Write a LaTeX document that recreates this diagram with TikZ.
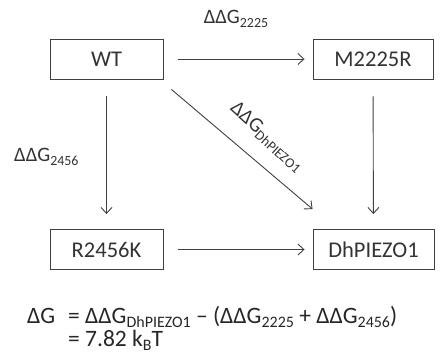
\documentclass[tikz,border=0pt]{standalone}
\usepackage{fontspec}
\usepackage{graphicx}
\setmainfont{Carlito}
\usetikzlibrary{arrows.meta,calc}
\newcommand\sbs[1]{\raisebox{-0.18em}{\scalebox{0.68}{#1}}}
\begin{document}
\begin{tikzpicture}[x=1pt,y=-1pt,
  box/.style={draw=black!75, line width=0.9pt, minimum height=40pt, inner sep=0pt, font=\fontsize{22.5}{26}\selectfont, text=black!80},
  conn/.style={draw=black!75, line width=0.9pt, -{Straight Barb[length=6pt,width=11pt]}},
  lbl/.style={font=\fontsize{20.5}{24}\selectfont, text=black!80, inner sep=0pt},
  eqn/.style={font=\fontsize{23.5}{27}\selectfont, text=black!85, inner sep=0pt, anchor=base west}]
\useasboundingbox (0,0) rectangle (441,362);
\node[box, minimum width=113pt] (wt) at (106.5,59) {WT};
\node[box, minimum width=120pt] (m) at (373,59) {M2225R};
\node[box, minimum width=113pt] (r) at (106.5,249.5) {R2456K};
\node[box, minimum width=121pt] (dh) at (373.5,249.5) {DhPIEZO1};
\draw[conn, shorten <=15pt, shorten >=8pt] (wt) -- (m);
\draw[conn, shorten <=15pt, shorten >=8pt] (r) -- (dh);
\draw[conn, shorten <=17pt, shorten >=15pt] (wt) -- (r);
\draw[conn, shorten <=17pt, shorten >=15pt] (m) -- (dh);
\coordinate (d1) at ($(wt.south east)+(8,10)$);
\coordinate (d2) at ($(dh.north west)+(0,-20)$);
\draw[conn] (d1) -- (d2);
\node[lbl] (l1) at (236,19) {ΔΔG\sbs{2225}};
\node[lbl, anchor=west] (l2) at (14,157) {ΔΔG\sbs{2456}};
\node[lbl, rotate=-42] (l3) at (267,137) {ΔΔG\sbs{DhPIEZO1}};
\node[eqn] (e0) at (27,323) {ΔG};
\node[eqn] (e1) at (68,323) {= ΔΔG\sbs{DhPIEZO1} – (ΔΔG\sbs{2225} + ΔΔG\sbs{2456})};
\node[eqn] (e2) at (68,346) {= 7.82 k\sbs{B}T};
\end{tikzpicture}
\end{document}
